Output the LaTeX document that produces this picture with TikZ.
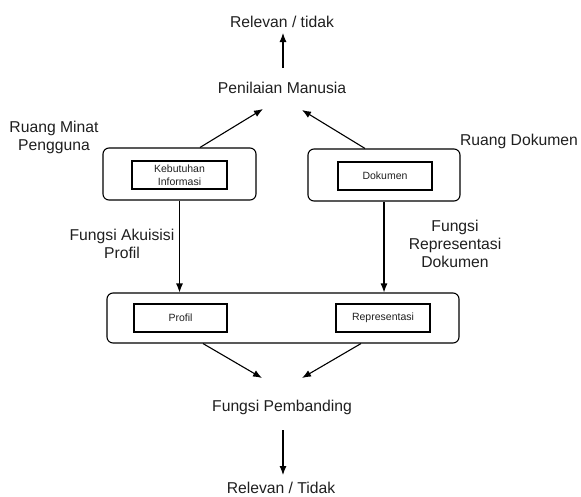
\documentclass[tikz,border=0pt]{standalone}
\usepackage{fontspec}
\setmainfont{Liberation Sans}
\usepackage{tikz}
\usetikzlibrary{positioning,arrows.meta}
\definecolor{inktext}{HTML}{1F1F1F}

\tikzset{
  lbl/.style={align=center,text=inktext,font=\fontsize{15.7}{18}\selectfont},
  outerbox/.style={draw,rounded corners=6pt,line width=1.1pt},
  innerbox/.style={draw,line width=1.2pt,align=center,text=inktext,
    font=\fontsize{10.5}{13.5}\selectfont,minimum height=28pt},
  flow/.style={line width=1.1pt,-{Latex[length=9pt,width=7pt]}}
}

\begin{document}
\begin{tikzpicture}[x=1pt,y=-1pt]
    \useasboundingbox (0,0) rectangle (581,496);

    % top: human judgement
    \node[lbl] (relTop) at (282,22) {Relevan / tidak};
    \node[lbl] (penilaian) at (282,88) {Penilaian Manusia};

    % user interest space and document space
    \node[lbl] (minatLbl) at (54,137) {Ruang Minat\\Pengguna};
    \node[lbl] (dokLbl) at (519,141) {Ruang Dokumen};
    \node[outerbox,minimum width=153pt,minimum height=52pt] (kebOuter) at (179.5,174) {};
    \node[innerbox,minimum width=95pt] (kebInner) at (179.5,175) {Kebutuhan\\Informasi};
    \node[outerbox,minimum width=152pt,minimum height=52pt] (dokOuter) at (384,175) {};
    \node[innerbox,minimum width=94pt] (dokInner) at (385,176) {Dokumen};

    % functions between the two levels
    \node[lbl] (akuisisiLbl) at (122,244) {Fungsi Akuisisi\\Profil};
    \node[lbl] (reprLbl) at (455,244) {Fungsi\\Representasi\\Dokumen};

    % system space
    \node[outerbox,minimum width=352pt,minimum height=50pt] (sysOuter) at (283,318) {};
    \node[innerbox,minimum width=93pt] (profil) at (180.5,318) {Profil};
    \node[innerbox,minimum width=94pt] (repr) at (383,318) {Representasi};

    \node[lbl] (pembanding) at (282,407) {Fungsi Pembanding};
    \node[lbl] (relBot) at (281,488) {Relevan / Tidak};

    % connectors
    \draw[flow] ([shift={(1,-20)}]penilaian.center) -- ([shift={(1,11)}]relTop.center);
    \draw[flow] ([xshift=20.5pt]kebOuter.north) -- ([shift={(-19,21)}]penilaian.center);
    \draw[flow] ([xshift=-19pt]dokOuter.north) -- ([shift={(20,22)}]penilaian.center);
    \draw[flow] (kebOuter.south) -- (kebOuter.south |- sysOuter.north);
    \draw[flow] (dokOuter.south) -- (dokOuter.south |- sysOuter.north);
    \draw[flow] ([xshift=-80pt]sysOuter.south) -- ([shift={(-20,-29)}]pembanding.center);
    \draw[flow] ([xshift=78pt]sysOuter.south) -- ([shift={(20,-29)}]pembanding.center);
    \draw[flow] ([shift={(1,23)}]pembanding.center) -- ([shift={(2,-13)}]relBot.center);
\end{tikzpicture}
\end{document}
